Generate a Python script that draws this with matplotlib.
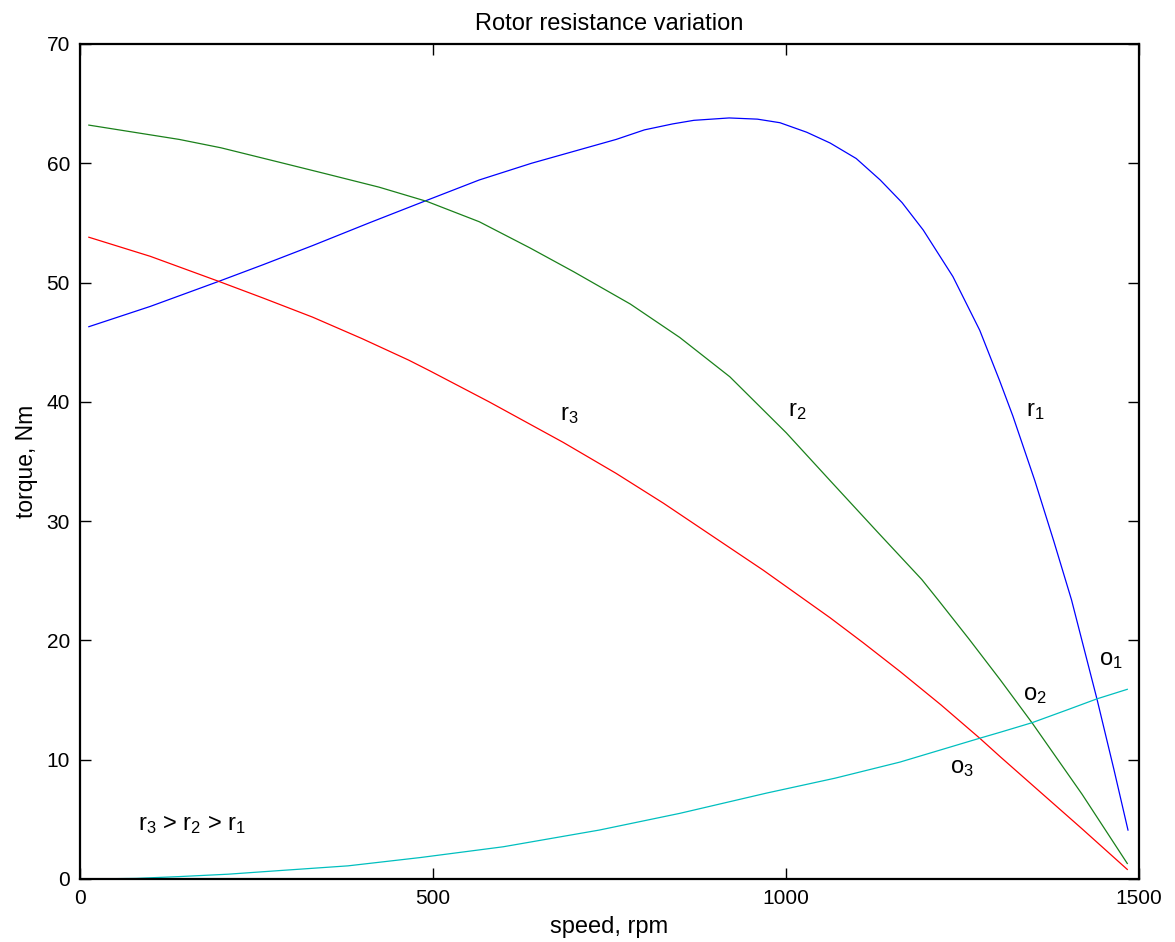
import matplotlib
matplotlib.use("Agg")
import matplotlib.pyplot as plt

plt.rcParams['font.family'] = ['Liberation Sans', 'DejaVu Sans']
plt.rcParams['mathtext.default'] = 'regular'

# values
speed_r1 = [13, 100, 197, 260, 330, 410, 492, 566, 640, 700, 760, 800, 840, 870, 920, 960, 992,
            1030, 1063, 1100, 1134, 1165, 1195, 1237, 1275, 1303, 1322, 1353, 1380, 1405, 1441, 1465, 1485]
torque_r1 = [46.3, 48.0, 50.1, 51.5, 53.1, 55.0, 56.9, 58.6, 60.0, 61.0, 62.0, 62.8, 63.3, 63.6, 63.8, 63.7, 63.4,
             62.6, 61.7, 60.4, 58.6, 56.7, 54.4, 50.5, 46.0, 41.8, 38.8, 33.4, 28.3, 23.4, 15.1, 9.2, 4.1]

speed_r2 = [13, 141, 200, 282, 350, 424, 492, 566, 638, 700, 780, 850, 921, 1001, 1063, 1130, 1193,
            1216, 1260, 1304, 1349, 1420, 1484]
torque_r2 = [63.2, 62.0, 61.3, 60.1, 59.1, 58.0, 56.8, 55.1, 52.9, 50.9, 48.2, 45.4, 42.1, 37.4, 33.4, 29.1, 25.1,
             23.4, 20.1, 16.7, 13.1, 7.1, 1.3]

speed_r3 = [13, 100, 197, 260, 330, 400, 466, 496, 580, 685, 760, 827, 900, 968, 1063, 1110, 1162,
            1220, 1275, 1304, 1350, 1420, 1484]
torque_r3 = [53.8, 52.2, 50.1, 48.7, 47.1, 45.3, 43.5, 42.6, 40.0, 36.6, 34.0, 31.5, 28.6, 25.9, 21.9, 19.8, 17.4,
             14.6, 11.8, 10.25, 7.85, 4.2, 0.8]

speed_load = [13, 80, 141, 210, 282, 380, 483, 600, 736, 850, 973, 1070, 1162, 1275, 1304, 1349, 1400, 1441, 1484]
torque_load = [0.0, 0.05, 0.2, 0.4, 0.7, 1.1, 1.8, 2.7, 4.1, 5.5, 7.2, 8.45, 9.8, 11.8, 12.3, 13.1, 14.2, 15.1, 15.9]

curve_labels = [('r', '1', 1340, 38.8), ('r', '2', 1003, 38.8), ('r', '3', 680, 38.5),
                ('o', '1', 1444, 17.9), ('o', '2', 1336, 15.0), ('o', '3', 1233, 8.9)]

fig = plt.figure(figsize=(11.75, 9.42), dpi=100)
ax = fig.add_axes([0.0678, 0.0669, 0.9012, 0.8864])

ax.plot(speed_r1, torque_r1, color=(0, 0, 1), lw=0.9)
ax.plot(speed_r2, torque_r2, color=(0.1, 0.5, 0.1), lw=0.9)
ax.plot(speed_r3, torque_r3, color=(1, 0, 0), lw=0.9)
ax.plot(speed_load, torque_load, color=(0, 0.75, 0.75), lw=0.9)

for base, sub, x, y in curve_labels:
    ax.text(x, y, base + '$_{' + sub + '}$', fontsize=17, ha='left', va='baseline')
ax.text(82, 4.1, 'r$_3$ > r$_2$ > r$_1$', fontsize=17, ha='left', va='baseline')

ax.set_xlim(0, 1500)
ax.set_ylim(0, 70)
ax.set_xticks([0, 500, 1000, 1500])
ax.set_yticks(range(0, 71, 10))
ax.tick_params(direction='in', length=8, width=1, top=True, right=True, labelsize=15, pad=7)
for s in ax.spines.values():
    s.set_linewidth(1.6)

ax.set_xlabel('speed, rpm', fontsize=17, labelpad=6)
ax.set_ylabel('torque, Nm', fontsize=16.5, labelpad=6)
ax.set_title('Rotor resistance variation', fontsize=17, pad=10)

fig.savefig('out.png', dpi=100)
